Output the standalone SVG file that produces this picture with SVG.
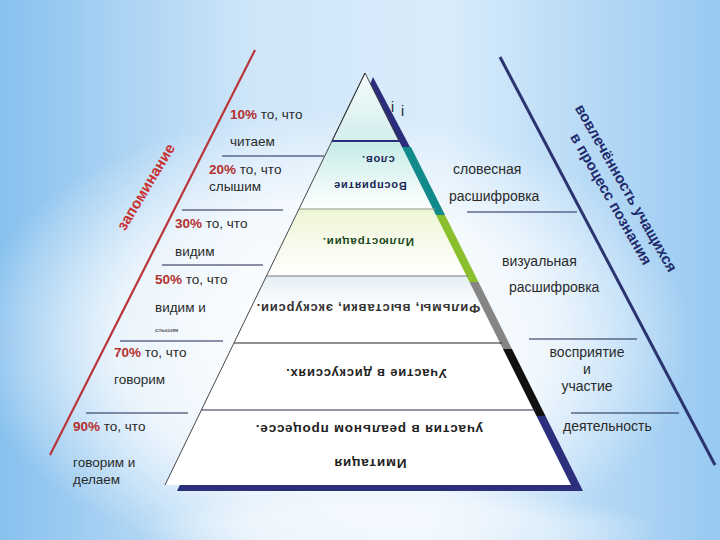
<svg xmlns="http://www.w3.org/2000/svg" width="720" height="540" viewBox="0 0 720 540">
<defs>
<linearGradient id="bg" x1="0" y1="0" x2="1" y2="0">
<stop offset="0" stop-color="#88c1ee"/>
<stop offset="0.35" stop-color="#cfe6f9"/>
<stop offset="0.62" stop-color="#d9ecfb"/>
<stop offset="1" stop-color="#98c9f1"/>
</linearGradient>
<radialGradient id="glow" cx="0.5" cy="0.5" r="0.5">
<stop offset="0" stop-color="#ffffff" stop-opacity="1"/>
<stop offset="0.6" stop-color="#ffffff" stop-opacity="0.75"/>
<stop offset="1" stop-color="#ffffff" stop-opacity="0"/>
</radialGradient>
<linearGradient id="g1" x1="0" y1="0" x2="0" y2="1">
<stop offset="0" stop-color="#f4fbfb"/>
<stop offset="1" stop-color="#d4eeee"/>
</linearGradient>
<linearGradient id="g2" x1="0" y1="0" x2="0" y2="1">
<stop offset="0" stop-color="#c6ebe8"/>
<stop offset="1" stop-color="#ffffff"/>
</linearGradient>
<linearGradient id="g3" x1="0" y1="0" x2="0" y2="1">
<stop offset="0" stop-color="#eef6d6"/>
<stop offset="1" stop-color="#ffffff"/>
</linearGradient>
<linearGradient id="g4" x1="0" y1="0" x2="0" y2="1">
<stop offset="0" stop-color="#e4eef3"/>
<stop offset="0.5" stop-color="#ffffff"/>
</linearGradient>
</defs>
<style>
.t{font-family:"Liberation Sans",Arial,sans-serif;font-size:13.5px;fill:#2a2a2a}
.r{font-family:"Liberation Sans",Arial,sans-serif;font-size:14px;fill:#2a2a2a}
.p{font-weight:bold;fill:#b3302f}
.lvl{font-family:"Liberation Sans",Arial,sans-serif;font-weight:bold;text-anchor:middle;letter-spacing:0.8px}
.ul{stroke:#1c2450;stroke-width:1.2;fill:none}
.face{stroke:none}
</style>
<rect width="720" height="540" fill="url(#bg)"/>
<ellipse cx="330" cy="340" rx="360" ry="230" fill="url(#glow)"/>
<ellipse cx="400" cy="530" rx="260" ry="40" fill="url(#glow)" opacity="0.6"/>

<g id="axes">
<line x1="255" y1="50" x2="50" y2="455" stroke="#b8363a" stroke-width="2.2"/>
<line x1="500" y1="57" x2="715" y2="465" stroke="#2b3470" stroke-width="3"/>
<text x="146" y="192" transform="rotate(-59 146 187)" text-anchor="middle" style="font-family:'Liberation Sans',Arial,sans-serif;font-weight:bold;font-size:15px;fill:#c9302f">запоминание</text>
<text x="626" y="193" transform="rotate(60.3 626 188)" text-anchor="middle" style="font-family:'Liberation Sans',Arial,sans-serif;font-weight:bold;font-size:15px;fill:#1f2a6b">вовлечённость учащихся</text>
<text x="611" y="204" transform="rotate(60.3 611 199)" text-anchor="middle" style="font-family:'Liberation Sans',Arial,sans-serif;font-weight:bold;font-size:15px;fill:#1f2a6b">в процесс познания</text>
</g>

<g id="pyramid-shadows">
<polygon points="373,77 410,147 344,147" fill="#2b2d7c"/>
<polygon points="344,147 411,147 445,215 311,215" fill="#138a8a"/>
<polygon points="311,215 445,215 478.5,282 278.5,282" fill="#8cbf2e"/>
<polygon points="278.5,282 478.5,282 512,349 246,349" fill="#858585"/>
<polygon points="246,349 512,349 545.5,416 213.4,416" fill="#111111"/>
<polygon points="213.4,416 545.5,416 583,491 177,491" fill="#2b2f7c"/>
</g>

<g id="level1">
<polygon class="face" points="365,73 399,141 332,141" fill="url(#g1)"/>
<polyline points="332,141 365,73 399,141" fill="none" stroke="#333" stroke-width="0.9"/>
<text x="391" y="112" style="font-family:'Liberation Sans',Arial,sans-serif;font-size:14px;fill:#222">i<tspan x="401" y="116">i</tspan></text>
</g>
<g id="level2">
<polygon class="face" points="332,141 399,141 433,209 299,209" fill="url(#g2)"/>
<text class="lvl" x="378" y="164" transform="rotate(180 378 160)" style="font-size:11px;fill:#1a2a55">слов.</text>
<text class="lvl" x="370" y="190" transform="rotate(180 370 186)" style="font-size:11px;fill:#1a2a55">Восприятие</text>
</g>
<g id="level3">
<polygon class="face" points="299,209 433,209 466.5,276 266.5,276" fill="url(#g3)"/>
<text class="lvl" x="368" y="246" transform="rotate(180 368 242)" style="font-size:11.5px;fill:#1f4a1f">Иллюстрации.</text>
</g>
<g id="level4">
<polygon class="face" points="266.5,276 466.5,276 500,343 234,343" fill="url(#g4)"/>
<text class="lvl" x="368" y="312.5" transform="rotate(180 368 308)" style="font-size:13px;fill:#333">Фильмы, выставки, экскурсии.</text>
</g>
<g id="level5">
<polygon class="face" points="234,343 500,343 533.5,410 201.4,410" fill="#ffffff"/>
<text class="lvl" x="366" y="377.5" transform="rotate(180 366 373)" style="font-size:13px;fill:#222">Участие в дискуссиях.</text>
</g>
<g id="level6">
<polygon class="face" points="201.4,410 533.5,410 571,485 165,485" fill="#ffffff"/>
<text class="lvl" x="369" y="434.8" transform="rotate(180 369 430)" style="font-size:13.5px;fill:#222">участия в реальном процессе.</text>
<text class="lvl" x="370" y="468.8" transform="rotate(180 370 464)" style="font-size:13.5px;fill:#222">Имитация</text>
</g>

<g id="pyramid-lines">
<line x1="332" y1="141" x2="401" y2="141" stroke="#2b2d7c" stroke-width="2"/>
<line x1="299" y1="209" x2="435" y2="209" stroke="#8a9a7c" stroke-width="1"/>
<line x1="266.5" y1="276" x2="468" y2="276" stroke="#777" stroke-width="1"/>
<line x1="234" y1="343" x2="502" y2="343" stroke="#222" stroke-width="1"/>
<line x1="201.4" y1="410" x2="536" y2="410" stroke="#2a2e50" stroke-width="1.2"/>
<line x1="365" y1="73" x2="165" y2="485" stroke="#333" stroke-width="0.9"/>
</g>

<g id="connectors">
<line class="ul" x1="222" y1="156" x2="324" y2="156"/>
<line class="ul" x1="182" y1="210" x2="283" y2="210"/>
<line class="ul" x1="162" y1="265" x2="263" y2="265"/>
<line class="ul" x1="120" y1="341" x2="223" y2="341"/>
<line class="ul" x1="86" y1="413" x2="188" y2="413"/>
<line class="ul" x1="467" y1="212" x2="577" y2="212"/>
<line class="ul" x1="529" y1="339" x2="637" y2="339"/>
<line class="ul" x1="571" y1="413" x2="679" y2="413"/>
</g>

<g id="left-labels">
<text class="t" x="230" y="119"><tspan class="p">10%</tspan> то, что</text>
<text class="t" x="230" y="146">читаем</text>
<text class="t" x="209" y="174"><tspan class="p">20%</tspan> то, что</text>
<text class="t" x="209" y="191">слышим</text>
<text class="t" x="175" y="228"><tspan class="p">30%</tspan> то, что</text>
<text class="t" x="175" y="256">видим</text>
<text class="t" x="155" y="284"><tspan class="p">50%</tspan> то, что</text>
<text class="t" x="155" y="312">видим и</text>
<text class="t" x="155" y="332" style="font-size:6px">слышим</text>
<text class="t" x="114" y="357"><tspan class="p">70%</tspan> то, что</text>
<text class="t" x="114" y="384">говорим</text>
<text class="t" x="73" y="431"><tspan class="p">90%</tspan> то, что</text>
<text class="t" x="73" y="467">говорим и</text>
<text class="t" x="73" y="484">делаем</text>
</g>

<g id="right-labels">
<text class="r" x="453" y="174">словесная</text>
<text class="r" x="449" y="201">расшифровка</text>
<text class="r" x="502" y="266">визуальная</text>
<text class="r" x="509" y="292">расшифровка</text>
<text class="r" x="587" y="357" text-anchor="middle">восприятие</text>
<text class="r" x="587" y="374" text-anchor="middle">и</text>
<text class="r" x="587" y="391" text-anchor="middle">участие</text>
<text class="r" x="563" y="431">деятельность</text>
</g>
</svg>
